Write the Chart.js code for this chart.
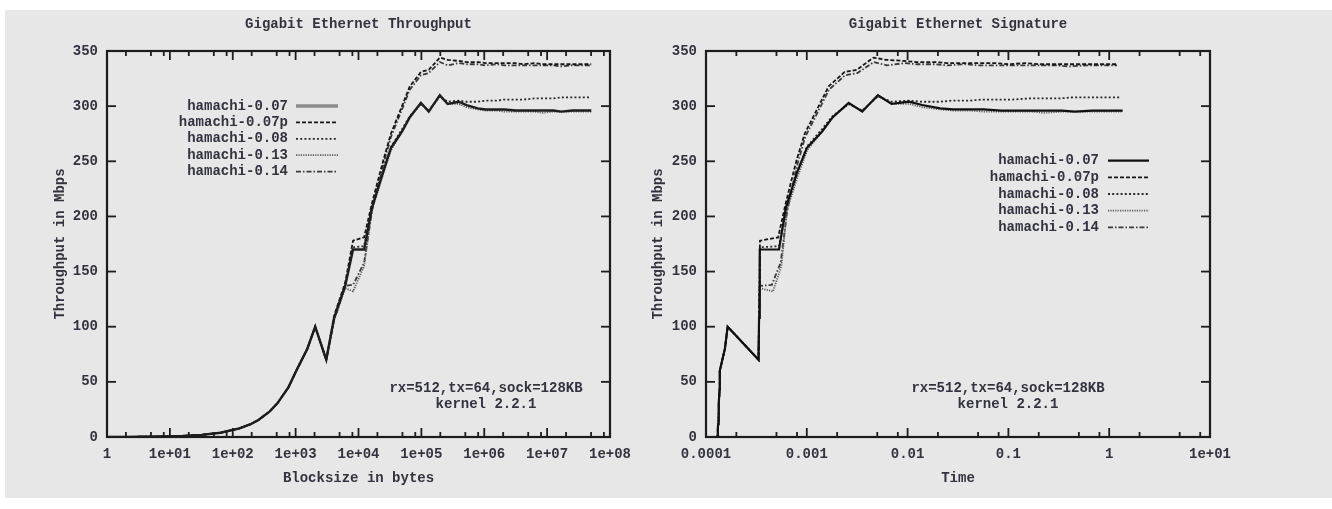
<!DOCTYPE html>
<html><head><meta charset="utf-8">
<script src="https://cdn.jsdelivr.net/npm/chart.js@4.4.1/dist/chart.umd.min.js"></script>
<style>
html,body{margin:0;padding:0;background:#fff;width:1332px;height:509px;overflow:hidden}
#panel{position:absolute;left:5px;top:10px;width:1327px;height:488px;background:#e7e7e7}
#w1{position:absolute;left:0;top:0;width:640px;height:509px}
#w2{position:absolute;left:640px;top:0;width:692px;height:509px}
</style></head><body>
<div id="panel"></div>
<div id="w1"><canvas id="c1" width="640" height="509"></canvas></div>
<div id="w2"><canvas id="c2" width="692" height="509"></canvas></div>
<script>
// ---------------- DATA ----------------
const seriesNames = ['hamachi-0.07','hamachi-0.07p','hamachi-0.08','hamachi-0.13','hamachi-0.14'];

const blocksize = [1,2,4,8,16,32,64,128,192,256,384,512,768,1024,1536,2048,3072,4096,6144,8192,12288,
  16384,24576,32768,49152,65536,98304,131072,196608,262144,393216,524288,786432,1048576,1572864,2097152,
  3145728,4194304,6291456,8388608,12582912,16777216,25165824,33554432,50331648];

// Throughput in Mbps
const thr07  = [0.06,0.12,0.25,0.49,0.98,1.96,3.9,7.8,11.6,15.4,23,30.5,45,60,80,100,70,
  108,137,170,170,208,240,262,277,290,303,295,310,302,304,301,298,297,297,297,296,296,296,296,296,295,296,296,296];
const thr07p = [0.06,0.12,0.25,0.49,0.98,1.96,3.9,7.8,11.6,15.4,23,30.5,45,60,80,100,70,
  110,140,178,181,212,250,275,300,318,331,333,344,342,341,340,340,339,339,339,339,338,339,338,338,338,338,338,338];
const thr08  = [0.06,0.12,0.25,0.49,0.98,1.96,3.9,7.8,11.6,15.4,23,30.5,45,60,80,100,70,
  108,138,172,173,208,241,263,279,291,302,296,309,304,305,304,304,305,305,306,306,306,307,307,307,308,308,308,308];
const thr13  = [0.06,0.12,0.25,0.49,0.98,1.96,3.9,7.8,11.6,15.4,23,30.5,45,60,80,100,70,
  106,135,132,155,206,238,260,277,290,302,296,309,302,302,299,297,296,296,295,295,295,295,294,295,295,295,295,295];
const thr14  = [0.06,0.12,0.25,0.49,0.98,1.96,3.9,7.8,11.6,15.4,23,30.5,45,60,80,100,70,
  106,137,138,158,205,246,272,297,315,328,330,340,337,339,338,338,337,338,337,337,337,337,337,337,336,337,337,337];

// Time in seconds (signature plot)
const time07  = [1.33e-4,1.33e-4,1.28e-4,1.31e-4,1.31e-4,1.31e-4,1.31e-4,1.31e-4,1.32e-4,1.33e-4,1.34e-4,1.34e-4,1.37e-4,1.37e-4,1.54e-4,1.64e-4,3.32e-4,
  3.36e-4,3.40e-4,3.43e-4,5.3e-4,6.2e-4,8.0e-4,1.00e-3,1.42e-3,1.81e-3,2.60e-3,3.55e-3,5.07e-3,6.94e-3,1.035e-2,1.393e-2,2.11e-2,2.82e-2,4.24e-2,5.65e-2,8.50e-2,0.1134,0.170,0.2267,0.340,0.455,0.680,0.907,1.360];
const time07p = [1.33e-4,1.33e-4,1.28e-4,1.31e-4,1.31e-4,1.31e-4,1.31e-4,1.31e-4,1.32e-4,1.33e-4,1.34e-4,1.34e-4,1.37e-4,1.37e-4,1.54e-4,1.64e-4,3.32e-4,
  3.36e-4,3.40e-4,3.43e-4,5.2e-4,6.18e-4,7.86e-4,9.53e-4,1.311e-3,1.649e-3,2.376e-3,3.149e-3,4.572e-3,6.13e-3,9.22e-3,1.234e-2,1.850e-2,2.475e-2,3.712e-2,4.949e-2,7.424e-2,9.927e-2,0.1485,0.1985,0.2978,0.3971,0.5956,0.7942,1.191];
const time08  = [1.33e-4,1.33e-4,1.28e-4,1.31e-4,1.31e-4,1.31e-4,1.31e-4,1.31e-4,1.32e-4,1.33e-4,1.34e-4,1.34e-4,1.37e-4,1.37e-4,1.54e-4,1.64e-4,3.32e-4,
  3.36e-4,3.40e-4,3.43e-4,5.3e-4,6.30e-4,8.16e-4,9.97e-4,1.409e-3,1.802e-3,2.604e-3,3.542e-3,5.090e-3,6.899e-3,1.031e-2,1.380e-2,2.070e-2,2.750e-2,4.126e-2,5.483e-2,8.224e-2,0.1097,0.1639,0.2186,0.3279,0.4358,0.6537,0.8715,1.307];
const time13  = [1.33e-4,1.33e-4,1.28e-4,1.31e-4,1.31e-4,1.31e-4,1.31e-4,1.31e-4,1.32e-4,1.33e-4,1.34e-4,1.34e-4,1.37e-4,1.37e-4,1.54e-4,1.64e-4,3.32e-4,
  3.36e-4,3.40e-4,4.62e-4,5.6e-4,6.36e-4,8.26e-4,1.008e-3,1.420e-3,1.808e-3,2.604e-3,3.542e-3,5.090e-3,6.944e-3,1.042e-2,1.403e-2,2.118e-2,2.834e-2,4.251e-2,5.687e-2,8.531e-2,0.1137,0.1706,0.2283,0.3412,0.4550,0.6825,0.9100,1.365];
const time14  = [1.33e-4,1.33e-4,1.28e-4,1.31e-4,1.31e-4,1.31e-4,1.31e-4,1.31e-4,1.32e-4,1.33e-4,1.34e-4,1.34e-4,1.37e-4,1.37e-4,1.54e-4,1.64e-4,3.32e-4,
  3.36e-4,3.40e-4,4.5e-4,5.5e-4,6.39e-4,7.99e-4,9.64e-4,1.324e-3,1.664e-3,2.398e-3,3.178e-3,4.626e-3,6.223e-3,9.279e-3,1.241e-2,1.861e-2,2.489e-2,3.723e-2,4.978e-2,7.468e-2,9.957e-2,0.1494,0.1991,0.2987,0.3995,0.5974,0.7966,1.195];

const yTickValues = [0,50,100,150,200,250,300,350];
const leftTickValues  = [1,1e1,1e2,1e3,1e4,1e5,1e6,1e7,1e8];
const leftTickLabels  = ['1','1e+01','1e+02','1e+03','1e+04','1e+05','1e+06','1e+07','1e+08'];
const rightTickValues = [1e-4,1e-3,1e-2,1e-1,1,1e1];
const rightTickLabels = ['0.0001','0.001','0.01','0.1','1','1e+01'];
const minorMultipliers = [2,5,8];

const titleLeft = 'Gigabit Ethernet Throughput';
const titleRight = 'Gigabit Ethernet Signature';
const xTitleLeft = 'Blocksize in bytes';
const xTitleRight = 'Time';
const yTitle = 'Throughput in Mbps';
const noteLines = ['rx=512,tx=64,sock=128KB','kernel 2.2.1'];

// ---------------- STYLE ----------------
const FONT = "'Liberation Mono', 'DejaVu Sans Mono', monospace";
const TXT = '#33333f';
Chart.defaults.font.family = FONT;
Chart.defaults.font.size = 14;
Chart.defaults.font.weight = 'bold';
Chart.defaults.color = TXT;

const styles = [
  {dash: [], width: 2.4},
  {color: '#161616', dash: [4,2], width: 1.8},
  {color: '#2a2a2a', dash: [2,2.2], width: 1.8},
  {color: '#5a5a5a', dash: [1.2,1.2], width: 1.8},
  {color: '#3a3a3a', dash: [5,2,1.5,2], width: 1.8}
];

function makeDatasets(xs, ys, firstColor, firstWidth) {
  return ys.map((yv, k) => ({
    label: seriesNames[k],
    data: yv.map((v, i) => ({x: xs[k][i], y: v})),
    borderColor: k === 0 ? firstColor : styles[k].color,
    borderWidth: k === 0 ? firstWidth : styles[k].width,
    borderDash: styles[k].dash,
    pointRadius: 0,
    tension: 0,
    fill: false
  }));
}

const decor = {
  id: 'decor',
  afterDatasetsDraw(chart, args, o) {
    const {ctx, chartArea: a, scales: {x, y}} = chart;
    ctx.save();
    ctx.strokeStyle = '#1c1c1c';
    ctx.lineWidth = 1.8;
    const seg = (x1, y1, x2, y2) => { ctx.beginPath(); ctx.moveTo(x1, y1); ctx.lineTo(x2, y2); ctx.stroke(); };
    yTickValues.forEach(v => {
      const py = y.getPixelForValue(v);
      seg(a.left, py, a.left + 9, py);
      seg(a.right, py, a.right - 9, py);
    });
    o.xTicks.forEach((v, i) => {
      const px = x.getPixelForValue(v);
      seg(px, a.bottom, px, a.bottom - 9);
      seg(px, a.top, px, a.top + 9);
      if (i < o.xTicks.length - 1) {
        minorMultipliers.forEach(m => {
          const qx = x.getPixelForValue(v * m);
          seg(qx, a.bottom, qx, a.bottom - 5);
          seg(qx, a.top, qx, a.top + 5);
        });
      }
    });
    ctx.lineWidth = 2.2;
    ctx.strokeRect(a.left, a.top, a.right - a.left, a.bottom - a.top);
    // title
    ctx.fillStyle = TXT;
    ctx.font = 'bold 14px ' + FONT;
    ctx.textAlign = 'center';
    ctx.textBaseline = 'middle';
    ctx.fillText(o.title, (a.left + a.right) / 2, 24);
    // note
    noteLines.forEach((t, i) => ctx.fillText(t, o.noteX, o.noteY + i * 16.5));
    // legend
    chart.data.datasets.forEach((ds, i) => {
      const ly = o.legTop + i * o.legStep;
      ctx.textAlign = 'right';
      ctx.fillStyle = TXT;
      ctx.fillText(ds.label, o.legTextRight, ly);
      ctx.strokeStyle = (i === 0 && o.legFirstColor) ? o.legFirstColor : ds.borderColor;
      ctx.lineWidth = (i === 0 && o.legFirstWidth) ? o.legFirstWidth : ds.borderWidth;
      ctx.setLineDash(ds.borderDash || []);
      seg(o.legSampleStart, ly, o.legSampleEnd, ly);
      ctx.setLineDash([]);
    });
    ctx.restore();
  }
};

function makeChart(id, datasets, xMin, xMax, tickValues, tickLabels, xTitle, pad, yWidth, decorOpts) {
  return new Chart(document.getElementById(id), {
    type: 'line',
    data: {datasets},
    options: {
      responsive: false,
      animation: false,
      layout: {padding: pad},
      plugins: {legend: {display: false}, tooltip: {enabled: false}, decor: decorOpts},
      scales: {
        x: {
          type: 'logarithmic', min: xMin, max: xMax,
          grid: {display: false, drawTicks: false}, border: {display: false},
          afterBuildTicks: s => { s.ticks = tickValues.map(v => ({value: v, major: true})); },
          afterFit: s => { s.height = 55; },
          ticks: {autoSkip: false, maxRotation: 0, padding: 9, color: TXT,
            font: {weight: 'bold'},
            callback: (v, i) => tickLabels[i]},
          title: {display: true, text: xTitle, color: TXT, font: {weight: 'bold'}, padding: {top: 0, bottom: 5}}
        },
        y: {
          min: 0, max: 350,
          grid: {display: false, drawTicks: false}, border: {display: false},
          afterBuildTicks: s => { s.ticks = yTickValues.map(v => ({value: v})); },
          afterFit: s => { s.width = yWidth; },
          ticks: {padding: 9, color: TXT, font: {weight: 'bold'}},
          title: {display: true, text: yTitle, color: TXT, font: {weight: 'bold'}, padding: {top: 4, bottom: 0}}
        }
      }
    },
    plugins: [decor]
  });
}

const thrAll = [thr07, thr07p, thr08, thr13, thr14];
makeChart('c1',
  makeDatasets([blocksize, blocksize, blocksize, blocksize, blocksize], thrAll, '#1e1e1e', 2.4),
  1, 1e8, leftTickValues, leftTickLabels, xTitleLeft,
  {left: 48, right: 28, top: 51, bottom: 17}, 59,
  {title: titleLeft, xTicks: leftTickValues, noteX: 486, noteY: 388,
   legTop: 106, legStep: 16.4, legTextRight: 288, legSampleStart: 296, legSampleEnd: 338,
   legFirstColor: '#8c8c8c', legFirstWidth: 3.5});

makeChart('c2',
  makeDatasets([time07, time07p, time08, time13, time14], thrAll, '#111111', 2.2),
  1e-4, 10, rightTickValues, rightTickLabels, xTitleRight,
  {left: 6, right: 122, top: 51, bottom: 17}, 60,
  {title: titleRight, xTicks: rightTickValues, noteX: 368, noteY: 388,
   legTop: 160.7, legStep: 16.65, legTextRight: 459, legSampleStart: 468, legSampleEnd: 509});
</script>
</body></html>
